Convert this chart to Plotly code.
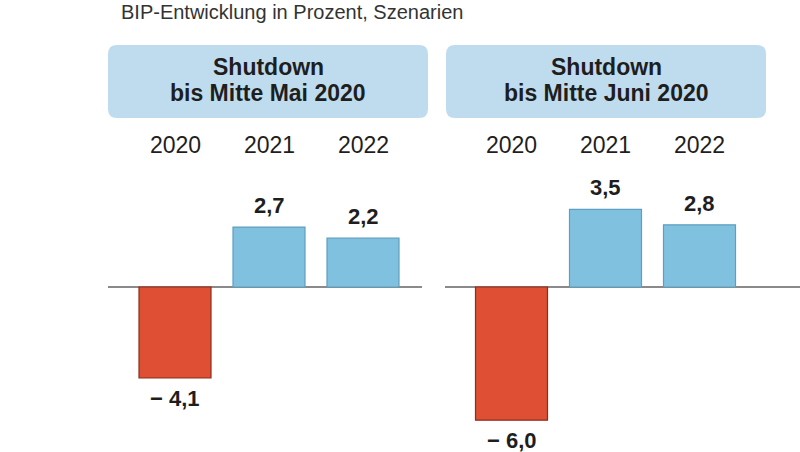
import plotly.graph_objects as go

years = ["2020", "2021", "2022"]
mai_values = [-4.1, 2.7, 2.2]
juni_values = [-6.0, 3.5, 2.8]
mai_labels = ["\u2212 4,1", "2,7", "2,2"]
juni_labels = ["\u2212 6,0", "3,5", "2,8"]
panel_line1 = ["Shutdown", "Shutdown"]
panel_line2 = ["bis Mitte Mai 2020", "bis Mitte Juni 2020"]
title_text = "BIP-Entwicklung in Prozent, Szenarien"

W, H = 800, 452
RED, RED_EDGE = "#de4f33", "#8e2d1c"
BLUE, BLUE_EDGE = "#80c1e0", "#5e9fc0"
BOX = "#bedcee"
TXT = "#1e1e1e"
FONT = "Liberation Sans, Arial, sans-serif"

def px(p):
    return p / W

def py(p):
    return 1 - p / H

def colors(vals):
    return [RED if v < 0 else BLUE for v in vals], [RED_EDGE if v < 0 else BLUE_EDGE for v in vals]

fig = go.Figure()
axes = [("x", "y"), ("x2", "y2")]
for (xa, ya), vals, labs in zip(axes, [mai_values, juni_values], [mai_labels, juni_labels]):
    fc, ec = colors(vals)
    fig.add_trace(go.Bar(
        x=list(range(len(years))), y=vals, width=0.766,
        marker=dict(color=fc, line=dict(color=ec, width=1.2)),
        xaxis=xa, yaxis=ya, showlegend=False, hoverinfo="skip",
    ))
    for i, (v, lab) in enumerate(zip(vals, labs)):
        fig.add_annotation(x=i, y=v, xref=xa, yref=ya, text=lab, showarrow=False,
                           xanchor="center", yanchor="bottom" if v >= 0 else "top",
                           yshift=7 if v >= 0 else -6,
                           font=dict(family=FONT, size=22, color=TXT, weight="bold"))

# y: zero at pixel 287, 22.2 px per unit
ppu = 22.2
zero_pix = 287
yr = [-(H - zero_pix) / ppu, zero_pix / ppu]

left_dom = [px(108), px(422)]
right_dom = [px(445), px(800)]
step = 94.0
lr0 = -(175 - 108) / step
rr0 = -(511.5 - 445) / step
xcommon = dict(showgrid=False, zeroline=False, showticklabels=False, showline=False, ticks="")
ycommon = dict(range=yr, domain=[0, 1], showgrid=False, showticklabels=False, ticks="",
               zeroline=True, zerolinecolor="#8a8a8a", zerolinewidth=1.5, showline=False)

fig.update_layout(
    width=W, height=H, margin=dict(l=0, r=0, t=0, b=0),
    paper_bgcolor="white", plot_bgcolor="rgba(0,0,0,0)",
    xaxis=dict(domain=left_dom, range=[lr0, lr0 + (left_dom[1] - left_dom[0]) * W / step], **xcommon),
    xaxis2=dict(domain=right_dom, range=[rr0, rr0 + (right_dom[1] - right_dom[0]) * W / step], **xcommon),
    yaxis=dict(anchor="x", **ycommon),
    yaxis2=dict(anchor="x2", **ycommon),
    font=dict(family=FONT, color=TXT),
)

def rounded(x0, x1, y0, y1, r=9):
    return (f"M {px(x0+r)},{py(y0)} L {px(x1-r)},{py(y0)} Q {px(x1)},{py(y0)} {px(x1)},{py(y0+r)} "
            f"L {px(x1)},{py(y1-r)} Q {px(x1)},{py(y1)} {px(x1-r)},{py(y1)} "
            f"L {px(x0+r)},{py(y1)} Q {px(x0)},{py(y1)} {px(x0)},{py(y1-r)} "
            f"L {px(x0)},{py(y0+r)} Q {px(x0)},{py(y0)} {px(x0+r)},{py(y0)} Z")

boxes = [(108, 428), (446, 766)]
for (x0, x1), t1, t2 in zip(boxes, panel_line1, panel_line2):
    fig.add_shape(type="path", path=rounded(x0, x1, 45, 118), xref="paper", yref="paper",
                  fillcolor=BOX, line=dict(width=0), layer="below")
    for t, yy in [(t1, 67), (t2, 93)]:
        fig.add_annotation(x=px((x0 + x1) / 2), y=py(yy), xref="paper", yref="paper",
                           text=t, showarrow=False, xanchor="center", yanchor="middle",
                           font=dict(family=FONT, size=23, color=TXT, weight="bold"))

for xa in ["x", "x2"]:
    for i, yv in enumerate(years):
        fig.add_annotation(x=i, y=py(145), xref=xa, yref="paper", text=yv,
                           showarrow=False, xanchor="center", yanchor="middle",
                           font=dict(family=FONT, size=23, color=TXT))

fig.add_annotation(x=px(119), y=py(12), xref="paper", yref="paper", text=title_text,
                   showarrow=False, xanchor="left", yanchor="middle",
                   font=dict(family=FONT, size=20, color="#333333"))

fig.write_html("out.html", config={"displayModeBar": False},
               post_script="document.body.style.margin='0';")
